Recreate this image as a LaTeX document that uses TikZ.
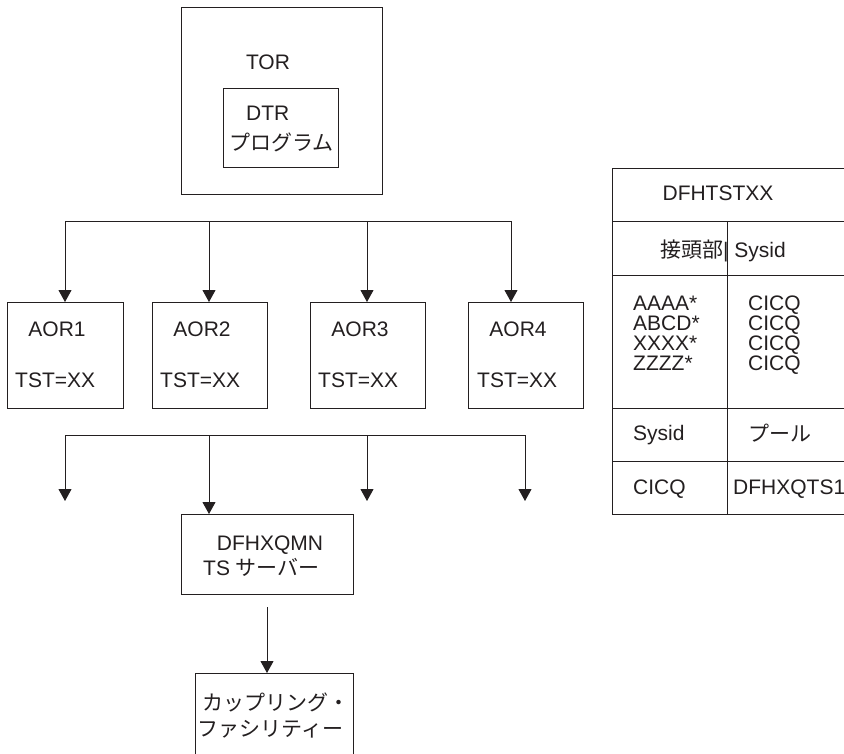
\documentclass[tikz,border=0pt]{standalone}
\usepackage{fontspec}
\setmainfont{Liberation Sans}
\newfontfamily\jp{Noto Sans CJK JP}
\usetikzlibrary{arrows.meta}
\definecolor{ink}{RGB}{35,31,32}
\begin{document}
\begin{tikzpicture}[x=1pt,y=-1pt,
  every node/.style={text=ink},
  box/.style={draw=ink,line width=0.9pt,rectangle,inner sep=0pt,anchor=north west},
  lbl/.style={inner sep=0pt,font=\fontsize{21}{25}\selectfont},
  ln/.style={draw=ink,line width=0.9pt},
  arr/.style={ln,-{Triangle[length=12pt,width=13pt]}}]
\useasboundingbox (0,0) rectangle (844,753);
\fill[white] (0,0) rectangle (844,753);

% TOR
\node[box,minimum width=201pt,minimum height=187pt] (tor) at (181,7) {};
\node[lbl,anchor=base] (tort) at (268,69.5) {TOR};
\node[box,minimum width=115pt,minimum height=79pt] (dtr) at (223,88) {};
\node[lbl,anchor=base west] (dtrt) at (246,120.5) {DTR};
\node[lbl,anchor=base] (dtrj) at (281.5,150) {\jp プログラム};

% bus 1
\coordinate (b1a) at (65,221);
\coordinate (b1b) at (209,221);
\coordinate (b1c) at (367,221);
\coordinate (b1d) at (511,221);
\draw[ln] (b1a) -- (b1d);

% AOR boxes
\node[box,minimum width=116pt,minimum height=106pt] (aor1) at (7,302) {};
\node[box,minimum width=115pt,minimum height=106pt] (aor2) at (152,302) {};
\node[box,minimum width=115pt,minimum height=106pt] (aor3) at (310,302) {};
\node[box,minimum width=115pt,minimum height=106pt] (aor4) at (468,302) {};
\draw[arr] (b1a) -- (b1a |- aor1.north);
\draw[arr] (b1b) -- (b1b |- aor2.north);
\draw[arr] (b1c) -- (b1c |- aor3.north);
\draw[arr] (b1d) -- (b1d |- aor4.north);
\node[lbl,anchor=base] (a1t) at (57,336.5) {AOR1};
\node[lbl,anchor=base] (a2t) at (202,336.5) {AOR2};
\node[lbl,anchor=base] (a3t) at (360,336.5) {AOR3};
\node[lbl,anchor=base] (a4t) at (518,336.5) {AOR4};
\node[lbl,anchor=base west] (a1s) at (15,387.5) {TST=XX};
\node[lbl,anchor=base west] (a2s) at (160,387.5) {TST=XX};
\node[lbl,anchor=base west] (a3s) at (318,387.5) {TST=XX};
\node[lbl,anchor=base west] (a4s) at (477,387.5) {TST=XX};

% bus 2
\coordinate (b2a) at (65,435);
\coordinate (b2b) at (209,435);
\coordinate (b2c) at (367,435);
\coordinate (b2d) at (525,435);
\coordinate (e2a) at (65,501);
\coordinate (e2c) at (367,501);
\coordinate (e2d) at (525,501);
\draw[ln] (b2a) -- (b2d);
\draw[arr] (b2a) -- (e2a);
\draw[arr] (b2c) -- (e2c);
\draw[arr] (b2d) -- (e2d);

% DFHXQMN
\node[box,minimum width=172pt,minimum height=80pt] (qmn) at (181,514) {};
\draw[arr] (b2b) -- (b2b |- qmn.north);
\node[lbl,anchor=base] (qmnt) at (270,550.5) {DFHXQMN};
\node[lbl,anchor=base west] (qmns) at (203,575.5) {TS {\jp サーバー}};

% coupling facility
\node[box,minimum width=158pt,minimum height=100pt] (cf) at (195,673) {};
\coordinate (qa) at (267,607);
\draw[arr] (qa) -- (qa |- cf.north);
\node[lbl,anchor=base] (cft1) at (275.5,710) {\jp カップリング・};
\node[lbl,anchor=base] (cft2) at (270.5,736) {\jp ファシリティー};

% table DFHTSTXX
\draw[ln] (850,168) -- (612,168) -- (612,514) -- (850,514);
\draw[ln] (612,221) -- (850,221);
\draw[ln] (612,275) -- (850,275);
\draw[ln] (612,408) -- (850,408);
\draw[ln] (612,461) -- (850,461);
\draw[ln] (727,221) -- (727,514);
\node[lbl,anchor=base] (tt) at (718,200.5) {DFHTSTXX};
\node[lbl,anchor=base west] (th) at (660,257) {{\jp 接頭部}| Sysid};
\node[lbl,anchor=base west] (p1) at (633,310.5) {AAAA*};
\node[lbl,anchor=base west] (p2) at (633,330.5) {ABCD*};
\node[lbl,anchor=base west] (p3) at (633,350.5) {XXXX*};
\node[lbl,anchor=base west] (p4) at (633,370.5) {ZZZZ*};
\node[lbl,anchor=base west] (s1) at (748,310.5) {CICQ};
\node[lbl,anchor=base west] (s2) at (748,330.5) {CICQ};
\node[lbl,anchor=base west] (s3) at (748,350.5) {CICQ};
\node[lbl,anchor=base west] (s4) at (748,370.5) {CICQ};
\node[lbl,anchor=base west] (sh) at (633,440.5) {Sysid};
\node[lbl,anchor=base] (ph) at (780,441) {\jp プール};
\node[lbl,anchor=base west] (sv) at (633,494.5) {CICQ};
\node[lbl,anchor=base west] (pv) at (733,494.5) {DFHXQTS1};
\end{tikzpicture}
\end{document}
